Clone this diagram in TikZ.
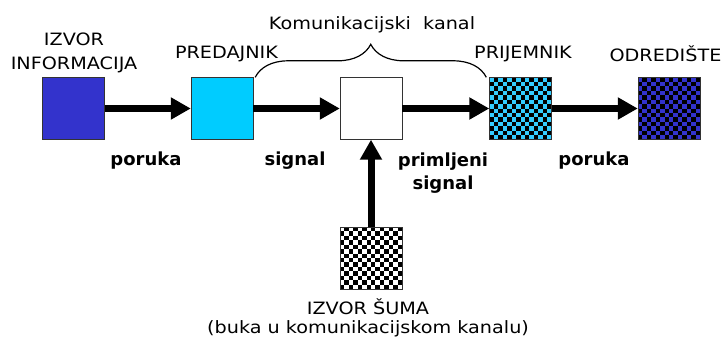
\documentclass[tikz,border=0pt]{standalone}
\usepackage{fontspec}
\setmainfont{DejaVu Sans}
\newfontfamily\siroki{DejaVu Sans}[FakeStretch=1.13]
\usetikzlibrary{arrows.meta,decorations.pathreplacing,calc}
\definecolor{tamnoplava}{RGB}{51,51,204}
\definecolor{svijetloplava}{RGB}{0,204,255}
\definecolor{tirkizna}{RGB}{51,204,255}

\begin{document}
\begin{tikzpicture}[x=1pt,y=-1pt,
font=\siroki\fontsize{17}{24}\selectfont,
block/.style={rectangle,draw=black!80,thin,minimum size=62pt,inner sep=0pt},
checker/.style={path picture={
  \foreach \i in {0,...,13} \foreach \j in {0,...,13} {
    \pgfmathtruncatemacro{\parnost}{mod(\i+\j,2)}
    \ifnum\parnost=1
      \fill[black] ($(path picture bounding box.north west)+(\i*4.43,\j*4.43)$) rectangle +(4.43,4.43);
    \fi}}},
title/.style={align=center,inner sep=0pt},
label/.style={align=center,inner sep=0pt,font=\rmfamily\fontsize{18}{23}\selectfont\bfseries},
arrow/.style={-{Triangle[length=20pt,width=21pt]},line width=7pt}
]
\useasboundingbox (0,0) rectangle (727,340);

\node[block,fill=tamnoplava] (izvor) at (73.5,108.5) {};
\node[block,fill=svijetloplava] (predajnik) at (222,108.5) {};
\node[block,fill=white] (kanal) at (371,108.5) {};
\node[block,fill=tirkizna,checker] (prijemnik) at (520.5,108.5) {};
\node[block,fill=tamnoplava,checker] (odrediste) at (669,108.5) {};
\node[block,fill=white,checker] (sum) at (371,258) {};

\node[title] (t1) at (74,53) {IZVOR\\INFORMACIJA};
\node[title] (t2) at (226.5,54) {PREDAJNIK};
\node[title] (t4) at (523,54) {PRIJEMNIK};
\node[title] (t5) at (665.5,54) {ODREDIŠTE};
\node[title,font=\siroki\fontsize{17}{19}\selectfont] (t6) at (368,318)
  {IZVOR ŠUMA\\(buka u komunikacijskom kanalu)};

\draw[arrow] (izvor) -- (predajnik);
\draw[arrow] (predajnik) -- (kanal);
\draw[arrow] (kanal) -- (prijemnik);
\draw[arrow] (prijemnik) -- (odrediste);
\draw[arrow] (sum) -- (kanal);

\node[label] (l1) at (146,161) {poruka};
\node[label] (l2) at (295,161) {signal};
\node[label] (l3) at (443,173) {primljeni\\signal};
\node[label] (l4) at (594,161) {poruka};

\draw[line width=1.2pt,decorate,decoration={brace,amplitude=33pt}]
  ($(predajnik.north east)+(2,0)$) -- ($(prijemnik.north west)+(-3,0)$);
\node[title] (kk) at (372,25) {Komunikacijski\ \ kanal};

\end{tikzpicture}
\end{document}
